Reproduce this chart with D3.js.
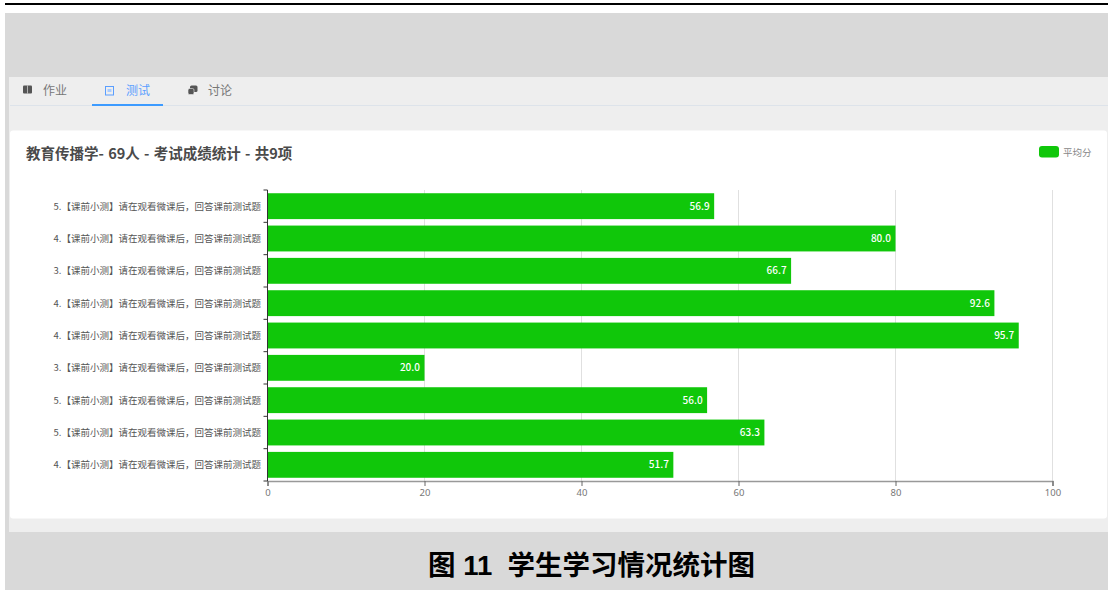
<!DOCTYPE html>
<html>
<head>
<meta charset="utf-8">
<script src="https://cdn.jsdelivr.net/npm/d3@7"></script>
<style>
	html, body {margin: 0; padding: 0; background: #fff; overflow: hidden;}
	text {font-family: "Noto Sans CJK SC", "Noto Sans", sans-serif;}
	.xaxis text {font-family: "Noto Sans", sans-serif;}
	.caption {font-family: "Liberation Sans", "Noto Sans CJK SC", sans-serif;}
</style>
</head>
<body>
<div id="chart-area"></div>
<script>
// chart values
let categories = [
	"5.【课前小测】请在观看微课后，回答课前测试题",
	"4.【课前小测】请在观看微课后，回答课前测试题",
	"3.【课前小测】请在观看微课后，回答课前测试题",
	"4.【课前小测】请在观看微课后，回答课前测试题",
	"4.【课前小测】请在观看微课后，回答课前测试题",
	"3.【课前小测】请在观看微课后，回答课前测试题",
	"5.【课前小测】请在观看微课后，回答课前测试题",
	"5.【课前小测】请在观看微课后，回答课前测试题",
	"4.【课前小测】请在观看微课后，回答课前测试题"
];
let scores = [56.9, 80.0, 66.7, 92.6, 95.7, 20.0, 56.0, 63.3, 51.7];
let xTicks = [0, 20, 40, 60, 80, 100];
let tabs = ["作业", "测试", "讨论"];

let svg = d3.select("#chart-area").append("svg")
	.attr("width", 1108)
	.attr("height", 590)
	.style("display", "block");

// page background pieces
svg.append("rect").attr("x", 5).attr("y", 3).attr("width", 1103).attr("height", 2).attr("fill", "#000");
svg.append("rect").attr("x", 5).attr("y", 13).attr("width", 1103).attr("height", 577).attr("fill", "#d9d9d9");
svg.append("rect").attr("x", 9).attr("y", 77).attr("width", 1099).attr("height", 455).attr("fill", "#eeeeee");
svg.append("rect").attr("x", 10).attr("y", 130.5).attr("width", 1097).attr("height", 388).attr("rx", 3).attr("fill", "#fff");

// tabs
svg.append("line").attr("x1", 10).attr("x2", 1108).attr("y1", 105.5).attr("y2", 105.5).attr("stroke", "#dde3ea");
svg.append("rect").attr("x", 92).attr("y", 104).attr("width", 71).attr("height", 2).attr("fill", "#3d9bff");

let tabX = [43, 126, 208];
let tabColor = ["#777", "#5a9eff", "#777"];
svg.selectAll(".tab").data(tabs).enter().append("text")
	.attr("class", "tab")
	.attr("x", (d, i) => tabX[i])
	.attr("y", 95)
	.attr("font-size", 12)
	.attr("fill", (d, i) => tabColor[i])
	.text(d => d);

// little tab icons
svg.append("rect").attr("x", 23).attr("y", 85.5).attr("width", 9).attr("height", 8).attr("rx", 1).attr("fill", "#555");
svg.append("rect").attr("x", 27.2).attr("y", 85.5).attr("width", 0.7).attr("height", 8).attr("fill", "#ddd");
svg.append("rect").attr("x", 105.5).attr("y", 86.5).attr("width", 8).attr("height", 8.5).attr("fill", "none").attr("stroke", "#5a9eff");
svg.append("rect").attr("x", 107.5).attr("y", 89).attr("width", 4).attr("height", 3).attr("fill", "#a9ccff");
svg.append("rect").attr("x", 190).attr("y", 85.5).attr("width", 7.5).attr("height", 6.5).attr("rx", 1.5).attr("fill", "#555");
svg.append("rect").attr("x", 188).attr("y", 88.5).attr("width", 6).attr("height", 6).attr("rx", 1.5).attr("fill", "#555").attr("stroke", "#eee").attr("stroke-width", 0.6);

// chart title
svg.append("text")
	.attr("x", 26).attr("y", 159)
	.attr("font-size", 14.5)
	.attr("font-weight", 700)
	.attr("word-spacing", 1)
	.attr("fill", "#4a4a4a")
	.text("教育传播学- 69人 - 考试成绩统计 - 共9项");

// legend
svg.append("rect").attr("x", 1039).attr("y", 146).attr("width", 20).attr("height", 11.5).attr("rx", 3).attr("fill", "#10c70a");
svg.append("text").attr("x", 1063).attr("y", 155.5).attr("font-size", 9.5).attr("fill", "#888").text("平均分");

// scales
let x = d3.scaleLinear().domain([0, 100]).range([267.5, 1052.5]);
let y = d3.scaleBand().domain(d3.range(categories.length)).range([190, 481]).paddingInner(0.2).paddingOuter(0.1);
let yOuter = d3.scaleBand().domain(d3.range(categories.length)).range([190, 481]);

// grid
svg.selectAll(".grid").data(xTicks.slice(1)).enter().append("line")
	.attr("class", "grid")
	.attr("x1", d => x(d)).attr("x2", d => x(d))
	.attr("y1", 190).attr("y2", 481)
	.attr("stroke", "#e0e0e0");

// bars
svg.selectAll(".bar").data(scores).enter().append("rect")
	.attr("class", "bar")
	.attr("x", x(0))
	.attr("y", (d, i) => y(i))
	.attr("width", d => x(d) - x(0))
	.attr("height", y.bandwidth())
	.attr("fill", "#10c70a");

// value labels
svg.selectAll(".val").data(scores).enter().append("text")
	.attr("class", "val")
	.attr("x", d => x(d) - 4.5)
	.attr("y", (d, i) => y(i) + y.bandwidth() / 2 + 3.5)
	.attr("text-anchor", "end")
	.attr("font-size", 10)
	.attr("font-weight", 500)
	.attr("fill", "#fff")
	.text(d => d.toFixed(1));

// x axis
let xAxis = svg.append("g")
	.attr("class", "xaxis")
	.attr("transform", "translate(0,481)")
	.call(d3.axisBottom(x).tickValues(xTicks).tickSize(5).tickPadding(3));
xAxis.select(".domain").attr("stroke", "#999").attr("stroke-width", 1.5);
xAxis.selectAll("line").attr("stroke", "#666");
xAxis.selectAll("text").attr("fill", "#777").attr("font-size", 9.5);

// y axis
let bandTicks = d3.range(categories.length + 1);
svg.append("line").attr("x1", x(0)).attr("x2", x(0)).attr("y1", 190).attr("y2", 481).attr("stroke", "#333");
svg.selectAll(".ytick").data(bandTicks).enter().append("line")
	.attr("class", "ytick")
	.attr("x1", x(0) - 4).attr("x2", x(0))
	.attr("y1", d => 190 + d * yOuter.step()).attr("y2", d => 190 + d * yOuter.step())
	.attr("stroke", "#333");

svg.selectAll(".cat").data(categories).enter().append("text")
	.attr("class", "cat")
	.attr("x", 261)
	.attr("y", (d, i) => y(i) + y.bandwidth() / 2 + 3.5)
	.attr("text-anchor", "end")
	.attr("font-size", 9.5)
	.attr("fill", "#555")
	.text(d => d);

// figure caption
svg.append("text")
	.attr("class", "caption")
	.attr("x", 591.5).attr("y", 575)
	.attr("text-anchor", "middle")
	.attr("font-size", 27.5)
	.attr("font-weight", 700)
	.attr("fill", "#000")
	.attr("xml:space", "preserve")
	.text("图 11  学生学习情况统计图");
</script>
</body>
</html>
